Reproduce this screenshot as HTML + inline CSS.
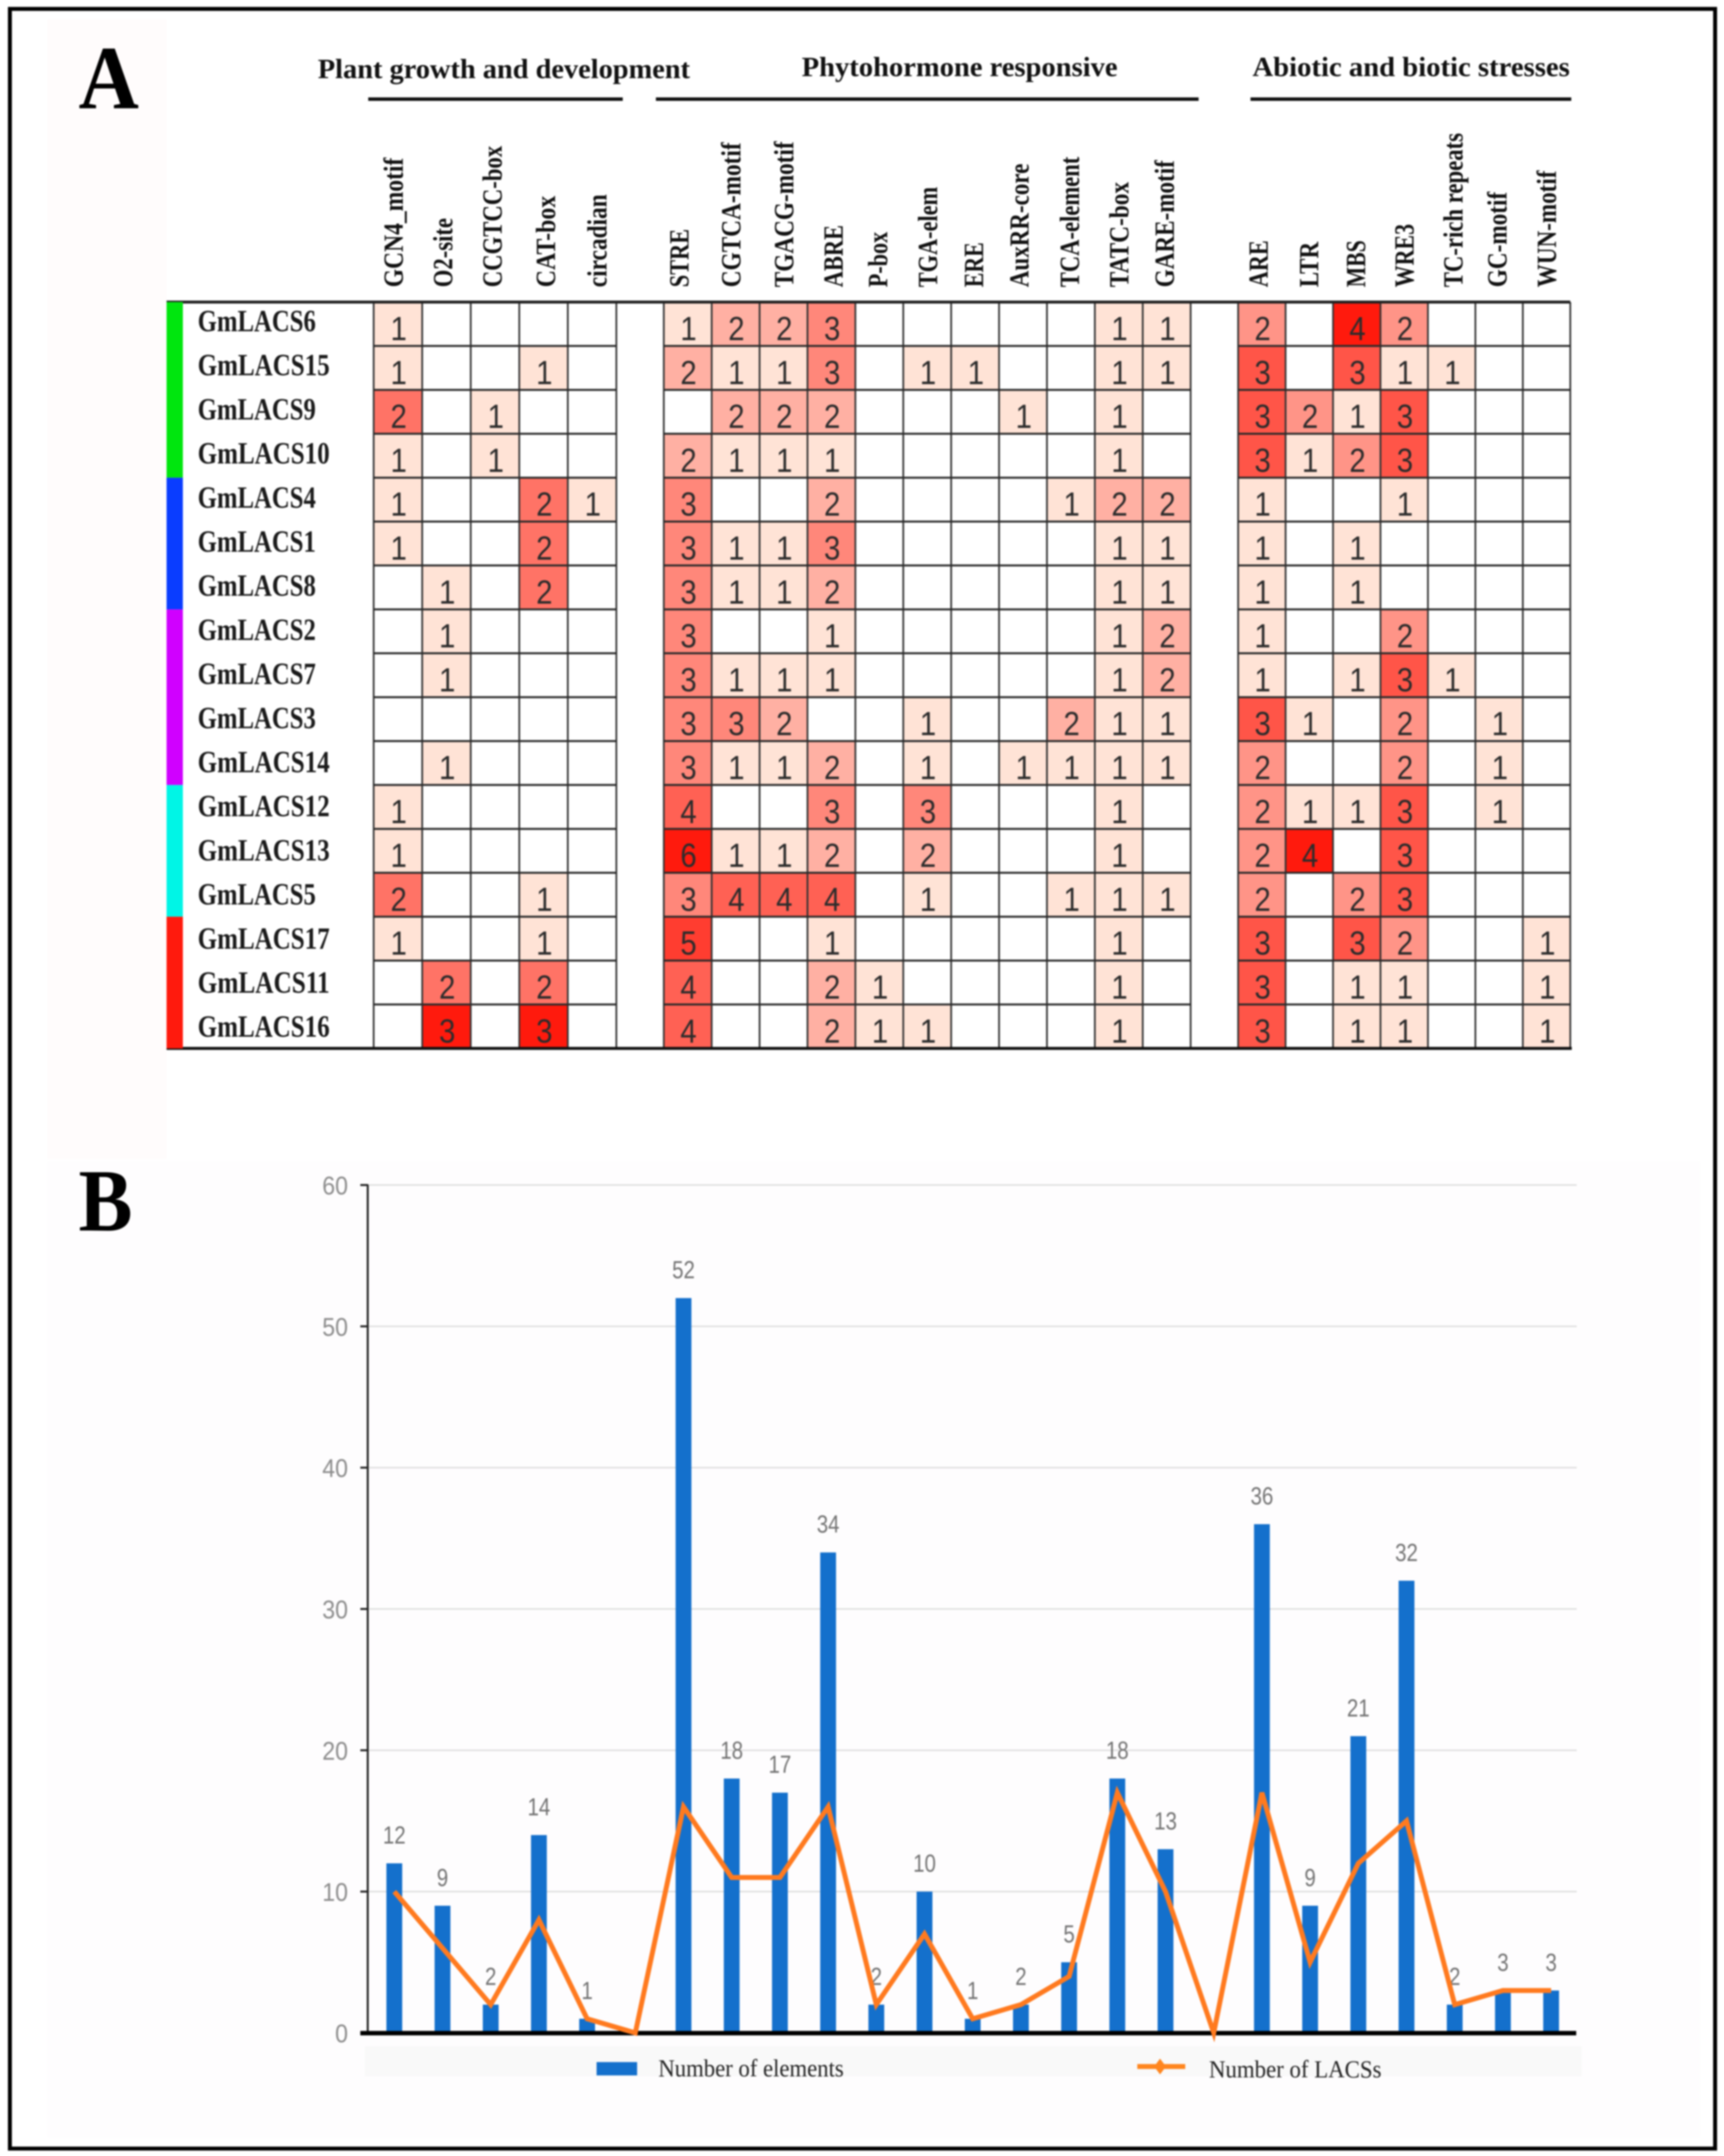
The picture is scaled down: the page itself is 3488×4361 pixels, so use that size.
<!DOCTYPE html>
<html lang="en">
<head>
<meta charset="utf-8">
<title>GmLACS cis-acting elements</title>
<style>
html,body{margin:0;padding:0;background:#fff;}
svg{display:block;filter:blur(1.5px);}
text{font-family:"Liberation Serif",serif;}
.sans{font-family:"Liberation Sans",sans-serif;}
.col{font-size:56px;font-weight:700;fill:#111;}
.head{font-size:56px;font-weight:700;fill:#111;}
</style>
</head>
<body>
<svg id="fig" xmlns="http://www.w3.org/2000/svg" width="3488" height="4361" viewBox="0 0 3488 4361">
  <rect x="96" y="39" width="241" height="2305" fill="#fffcfc"/>
  <rect x="96" y="2349" width="3344" height="1975" fill="#fefdfe"/>
  <rect x="20" y="18" width="3450" height="4328" fill="none" stroke="#000" stroke-width="8"/>

  <text x="159" y="219" font-size="183" font-weight="700" textLength="122" lengthAdjust="spacingAndGlyphs">A</text>
  <text x="159" y="2489" font-size="180" font-weight="700" textLength="109" lengthAdjust="spacingAndGlyphs">B</text>

  <text class="head" x="643" y="158" textLength="753" lengthAdjust="spacingAndGlyphs">Plant growth and development</text>
  <text class="head" x="1622" y="154" textLength="639" lengthAdjust="spacingAndGlyphs">Phytohormone responsive</text>
  <text class="head" x="2534" y="154" textLength="642" lengthAdjust="spacingAndGlyphs">Abiotic and biotic stresses</text>
  <rect x="745" y="197" width="515" height="7" fill="#111"/>
  <rect x="1327" y="197" width="1098" height="7" fill="#111"/>
  <rect x="2530" y="197" width="649" height="7" fill="#111"/>

  <g id="col-labels">
    <text class="col" transform="translate(815,581) rotate(-90)" textLength="262" lengthAdjust="spacingAndGlyphs">GCN4_motif</text>
    <text class="col" transform="translate(915,581) rotate(-90)" textLength="140" lengthAdjust="spacingAndGlyphs">O2-site</text>
    <text class="col" transform="translate(1015,581) rotate(-90)" textLength="286" lengthAdjust="spacingAndGlyphs">CCGTCC-box</text>
    <text class="col" transform="translate(1123,581) rotate(-90)" textLength="185" lengthAdjust="spacingAndGlyphs">CAT-box</text>
    <text class="col" transform="translate(1227,581) rotate(-90)" textLength="188" lengthAdjust="spacingAndGlyphs">circadian</text>
    <text class="col" transform="translate(1393,581) rotate(-90)" textLength="118" lengthAdjust="spacingAndGlyphs">STRE</text>
    <text class="col" transform="translate(1498,581) rotate(-90)" textLength="293" lengthAdjust="spacingAndGlyphs">CGTCA-motif</text>
    <text class="col" transform="translate(1605,581) rotate(-90)" textLength="295" lengthAdjust="spacingAndGlyphs">TGACG-motif</text>
    <text class="col" transform="translate(1705,581) rotate(-90)" textLength="126" lengthAdjust="spacingAndGlyphs">ABRE</text>
    <text class="col" transform="translate(1795,581) rotate(-90)" textLength="112" lengthAdjust="spacingAndGlyphs">P-box</text>
    <text class="col" transform="translate(1896,581) rotate(-90)" textLength="203" lengthAdjust="spacingAndGlyphs">TGA-elem</text>
    <text class="col" transform="translate(1989,581) rotate(-90)" textLength="91" lengthAdjust="spacingAndGlyphs">ERE</text>
    <text class="col" transform="translate(2081,581) rotate(-90)" textLength="250" lengthAdjust="spacingAndGlyphs">AuxRR-core</text>
    <text class="col" transform="translate(2183,581) rotate(-90)" textLength="264" lengthAdjust="spacingAndGlyphs">TCA-element</text>
    <text class="col" transform="translate(2283,581) rotate(-90)" textLength="213" lengthAdjust="spacingAndGlyphs">TATC-box</text>
    <text class="col" transform="translate(2375,581) rotate(-90)" textLength="257" lengthAdjust="spacingAndGlyphs">GARE-motif</text>
    <text class="col" transform="translate(2565,581) rotate(-90)" textLength="95" lengthAdjust="spacingAndGlyphs">ARE</text>
    <text class="col" transform="translate(2667,581) rotate(-90)" textLength="92" lengthAdjust="spacingAndGlyphs">LTR</text>
    <text class="col" transform="translate(2762,581) rotate(-90)" textLength="95" lengthAdjust="spacingAndGlyphs">MBS</text>
    <text class="col" transform="translate(2860,581) rotate(-90)" textLength="128" lengthAdjust="spacingAndGlyphs">WRE3</text>
    <text class="col" transform="translate(2959,581) rotate(-90)" textLength="312" lengthAdjust="spacingAndGlyphs">TC-rich repeats</text>
    <text class="col" transform="translate(3048,581) rotate(-90)" textLength="193" lengthAdjust="spacingAndGlyphs">GC-motif</text>
    <text class="col" transform="translate(3148,581) rotate(-90)" textLength="236" lengthAdjust="spacingAndGlyphs">WUN-motif</text>
  </g>

  <g id="heat-fills"></g>
  <g id="heat-grid"></g>
  <g id="heat-text"></g>
  <g id="clades"></g>
  <g id="rows"></g>

  <g id="chart"></g>

  <rect x="738" y="4139" width="2462" height="61" fill="#f9f9f9"/>
  <rect x="1207" y="4171" width="82" height="27" fill="#1470cc"/>
  <text x="1332" y="4200" font-size="50" fill="#222" textLength="375" lengthAdjust="spacingAndGlyphs">Number of elements</text>
  <rect x="2301" y="4175" width="97" height="10" fill="#ff861f"/>
  <polygon points="2347,4164 2359,4180 2347,4196 2335,4180" fill="#ff861f"/>
  <text x="2446" y="4202" font-size="50" fill="#222" textLength="349" lengthAdjust="spacingAndGlyphs">Number of LACSs</text>
</svg>

<script>
// ---------- Panel A data ----------
const genes = ["GmLACS6","GmLACS15","GmLACS9","GmLACS10","GmLACS4","GmLACS1","GmLACS8","GmLACS2","GmLACS7","GmLACS3","GmLACS14","GmLACS12","GmLACS13","GmLACS5","GmLACS17","GmLACS11","GmLACS16"];
const cladeNames = ["green","blue","purple","cyan","red"];
const cladeSizes = [4,3,4,3,3];
const cladeColors = ["#00e60e","#0a3dff","#d000ff","#00f5e6","#ff1a0d"];
const groupSizes = [5,11,7];
const groupColorTops = [3,6,4];
const countsGrowth = [
 [1,0,0,0,0],[1,0,0,1,0],[2,0,1,0,0],[1,0,1,0,0],[1,0,0,2,1],[1,0,0,2,0],[0,1,0,2,0],[0,1,0,0,0],[0,1,0,0,0],
 [0,0,0,0,0],[0,1,0,0,0],[1,0,0,0,0],[1,0,0,0,0],[2,0,0,1,0],[1,0,0,1,0],[0,2,0,2,0],[0,3,0,3,0]];
const countsHormone = [
 [1,2,2,3,0,0,0,0,0,1,1],[2,1,1,3,0,1,1,0,0,1,1],[0,2,2,2,0,0,0,1,0,1,0],[2,1,1,1,0,0,0,0,0,1,0],
 [3,0,0,2,0,0,0,0,1,2,2],[3,1,1,3,0,0,0,0,0,1,1],[3,1,1,2,0,0,0,0,0,1,1],[3,0,0,1,0,0,0,0,0,1,2],
 [3,1,1,1,0,0,0,0,0,1,2],[3,3,2,0,0,1,0,0,2,1,1],[3,1,1,2,0,1,0,1,1,1,1],[4,0,0,3,0,3,0,0,0,1,0],
 [6,1,1,2,0,2,0,0,0,1,0],[3,4,4,4,0,1,0,0,1,1,1],[5,0,0,1,0,0,0,0,0,1,0],[4,0,0,2,1,0,0,0,0,1,0],[4,0,0,2,1,1,0,0,0,1,0]];
const countsStress = [
 [2,0,4,2,0,0,0],[3,0,3,1,1,0,0],[3,2,1,3,0,0,0],[3,1,2,3,0,0,0],[1,0,0,1,0,0,0],[1,0,1,0,0,0,0],[1,0,1,0,0,0,0],
 [1,0,0,2,0,0,0],[1,0,1,3,1,0,0],[3,1,0,2,0,1,0],[2,0,0,2,0,1,0],[2,1,1,3,0,1,0],[2,4,0,3,0,0,0],[2,0,2,3,0,0,0],
 [3,0,3,2,0,0,1],[3,0,1,1,0,0,1],[3,0,1,1,0,0,1]];

// ---------- Panel B data ----------
const elementNames = ["GCN4_motif","O2-site","CCGTCC-box","CAT-box","circadian","gap-1","STRE","CGTCA-motif","TGACG-motif","ABRE","P-box","TGA-elem","ERE","AuxRR-core","TCA-element","TATC-box","GARE-motif","gap-2","ARE","LTR","MBS","WRE3","TC-rich repeats","GC-motif","WUN-motif"];
const elementCounts = [12,9,2,14,1,0,52,18,17,34,2,10,1,2,5,18,13,0,36,9,21,32,2,3,3];
const lacsCounts = [10,6,2,8,1,0,16,11,11,16,2,7,1,2,4,17,10,0,17,5,12,15,2,3,3];
const yTicks = [0,10,20,30,40,50,60];

// ---------- helpers ----------
const NS = "http://www.w3.org/2000/svg";
function make(parent, tag, attrs, content) {
  const el = document.createElementNS(NS, tag);
  for (const k in attrs) el.setAttribute(k, attrs[k]);
  if (content !== undefined) el.textContent = content;
  parent.appendChild(el);
  return el;
}

// ---------- Panel A axes ----------
const heatTop = 611, rowStep = 88.8;
const groupStart = [756, 1343, 2505];
const groupStep = [98.2, 96.9, 96];
const rowY = r => heatTop + r * rowStep;
const colX = (g, c) => groupStart[g] + c * groupStep[g];
function heatColor(v, top) {
  const t = Math.pow((v - 1) / (top - 1), 0.85);
  const g = Math.round(227 + (26 - 227) * t);
  const b = Math.round(214 + (13 - 214) * t);
  return "rgb(255," + g + "," + b + ")";
}

const fills = document.getElementById("heat-fills");
const grid = document.getElementById("heat-grid");
const valuesLayer = document.getElementById("heat-text");
const rowsLayer = document.getElementById("rows");
const cladeLayer = document.getElementById("clades");
const chart = document.getElementById("chart");
const matrices = [countsGrowth, countsHormone, countsStress];

matrices.forEach(function (matrix, g) {
  matrix.forEach(function (row, r) {
    row.forEach(function (v, c) {
      if (!v) return;
      const rect = make(fills, "rect", {x: colX(g, c), y: rowY(r), width: groupStep[g], height: rowStep, fill: heatColor(v, groupColorTops[g])});
      
      
      const label = make(valuesLayer, "text", {class: "sans", x: colX(g, c) + groupStep[g] / 2 - 15, y: rowY(r) + 77, "font-size": 68, fill: "#2c2c2c", textLength: 33, lengthAdjust: "spacingAndGlyphs"}, String(v));
      
      
    });
  });
  for (let c = 0; c <= groupSizes[g]; c++) {
    const v = make(grid, "line", {x1: colX(g, c), x2: colX(g, c), y1: heatTop, y2: rowY(genes.length), stroke: "#333", "stroke-width": 3.5});
    
    
  }
  for (let r = 1; r < genes.length; r++) {
    const h = make(grid, "line", {x1: colX(g, 0), x2: colX(g, groupSizes[g]), y1: rowY(r), y2: rowY(r), stroke: "#2a2a2a", "stroke-width": 4});
    
    
  }
});

const topLine = make(grid, "line", {x1: 337, x2: 3177, y1: heatTop, y2: heatTop, stroke: "#222", "stroke-width": 6});


const bottomLine = make(grid, "line", {x1: 337, x2: 3180, y1: rowY(genes.length), y2: rowY(genes.length), stroke: "#111", "stroke-width": 6});



genes.forEach(function (name, r) {
  const t = make(rowsLayer, "text", {x: 400, y: 670 + r * 89.2, "font-size": 62, "font-weight": 700, fill: "#1a1a1a", textLength: name.length > 7 ? 267 : 239, lengthAdjust: "spacingAndGlyphs"}, name);
  
  
});

let cladeRow = 0;
cladeSizes.forEach(function (n, i) {
  const b = make(cladeLayer, "rect", {x: 337, y: rowY(cladeRow), width: 33, height: n * rowStep, fill: cladeColors[i]});
  
  
  cladeRow += n;
});

// ---------- Panel B axes ----------
const plotLeft = 749, plotRight = 3187, yZero = 4112, yTop = 2397, yMax = 60;
const bandW = (plotRight - plotLeft) / elementNames.length;
const xPos = i => plotLeft + bandW * (i + 0.5);
const yPos = v => yZero - (v / yMax) * (yZero - yTop);

yTicks.forEach(function (tick) {
  if (tick > 0) {
    const g = make(chart, "line", {x1: 745, x2: 3190, y1: yPos(tick), y2: yPos(tick), stroke: "#dedede", "stroke-width": 3});
    
    
  }
  const m = make(chart, "line", {x1: 729, x2: 745, y1: yPos(tick), y2: yPos(tick), stroke: "#222", "stroke-width": 4});
  
  
  const s = String(tick);
  const l = make(chart, "text", {class: "sans", x: 704 - s.length * 26, y: yPos(tick) + 19, "font-size": 52, fill: "#8c8c8c", textLength: s.length * 26, lengthAdjust: "spacingAndGlyphs"}, s);
  
  
});

const yAxis = make(chart, "line", {x1: 744, x2: 744, y1: yTop, y2: yZero, stroke: "#222", "stroke-width": 4});



elementCounts.forEach(function (v, i) {
  if (!v) return;
  const b = make(chart, "rect", {x: xPos(i) - 16, y: yPos(v), width: 32, height: yZero - yPos(v), fill: "#1470cc"});
  
  
  const s = String(v);
  const t = make(chart, "text", {class: "sans", x: xPos(i) - s.length * 11.5, y: yPos(v) - 40, "font-size": 50, fill: "#737373", textLength: s.length * 23, lengthAdjust: "spacingAndGlyphs"}, s);
  
  
});

const xAxis = make(chart, "rect", {x: 729, y: yZero - 4, width: 2460, height: 9, fill: "#000"});



const linePoints = lacsCounts.map(function (v, i) { return xPos(i) + "," + yPos(v); }).join(" ");
const lacsLine = make(chart, "polyline", {points: linePoints, fill: "none", stroke: "#ff7a1f", "stroke-width": 10, "stroke-linejoin": "miter"});


</script>
</body>
</html>
